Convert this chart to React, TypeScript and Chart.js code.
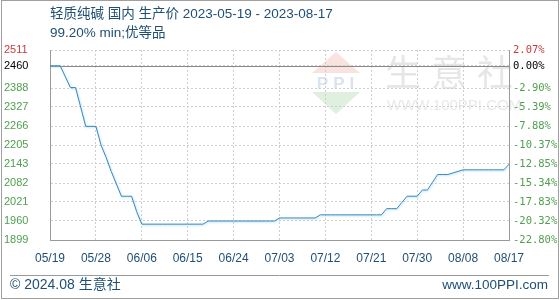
import React, { useEffect, useRef } from 'react';
import { Chart, registerables } from 'chart.js';

Chart.register(...registerables);

// ---- data ----
const startDate = [2023, 5, 19];
const dayCount = 91;
const dates: string[] = [];
for (let i = 0; i < dayCount; i++) {
  const d = new Date(Date.UTC(startDate[0], startDate[1] - 1, startDate[2] + i));
  const mm = String(d.getUTCMonth() + 1).padStart(2, '0');
  const dd = String(d.getUTCDate()).padStart(2, '0');
  dates.push(mm + '/' + dd);
}

const prices: number[] = [
  2460, 2460, 2460, 2425, 2390, 2390, 2328, 2265, 2265, 2265,
  2205, 2165, 2120, 2080, 2040, 2040, 2040, 1990, 1950, 1950,
  1950, 1950, 1950, 1950, 1950, 1950, 1950, 1950, 1950, 1950,
  1950, 1960, 1960, 1960, 1960, 1960, 1960, 1960, 1960, 1960,
  1960, 1960, 1960, 1960, 1960, 1970, 1970, 1970, 1970, 1970,
  1970, 1970, 1970, 1980, 1980, 1980, 1980, 1980, 1980, 1980,
  1980, 1980, 1980, 1980, 1980, 1980, 2000, 2000, 2000, 2020,
  2040, 2040, 2040, 2060, 2060, 2085, 2110, 2110, 2110, 2115,
  2120, 2125, 2125, 2125, 2125, 2125, 2125, 2125, 2125, 2125,
  2143,
];

const baseValue = 2460;
const yMin = 1899;
const yMax = 2511;
const yTickValues = [1899, 1960.2, 2021.4, 2082.6, 2143.8, 2205, 2266.2, 2327.4, 2388.6, 2460, 2511];
const yTickLabels = ['1899', '1960', '2021', '2082', '2143', '2205', '2266', '2327', '2388', '2460', '2511'];
const pctTickLabels = ['-22.80%', '-20.32%', '-17.83%', '-15.34%', '-12.85%', '-10.37%', '-7.88%', '-5.39%', '-2.90%', '0.00%', '2.07%'];
const xLabelEvery = 9;

const titleLine1 = '轻质纯碱 国内 生产价 2023-05-19 - 2023-08-17';
const titleLine2 = '99.20% min;优等品';
const footerLeft = '© 2024.08 生意社';
const footerRight = 'www.100PPI.com';
const wmText = '生意社';
const wmUrl = 'WWW.100PPI.COM';
const wmLogo = 'PPI';

const TEXT_BLUE = '#1f4f74';
const GREEN = '#4f9f4f';
const RED = '#c83c3c';
const FONT = '"Liberation Sans", "Noto Sans CJK SC", sans-serif';

const tickColor = (ctx: any) => {
  const v = ctx.tick ? ctx.tick.value : null;
  if (v === yMax) return RED;
  if (v === baseValue) return '#000000';
  return GREEN;
};

const decorPlugin = {
  id: 'decor',
  beforeDraw(chart: any) {
    const ctx = chart.ctx as CanvasRenderingContext2D;
    const W = chart.width;
    const H = chart.height;
    ctx.save();
    ctx.fillStyle = '#ffffff';
    ctx.fillRect(0, 0, W, H);

    // watermark logo
    ctx.fillStyle = 'rgba(236,150,140,0.28)';
    ctx.beginPath();
    ctx.moveTo(336, 52);
    ctx.lineTo(360, 73);
    ctx.lineTo(312, 73);
    ctx.closePath();
    ctx.fill();
    ctx.fillStyle = 'rgba(140,200,140,0.28)';
    ctx.beginPath();
    ctx.moveTo(312, 92);
    ctx.lineTo(360, 92);
    ctx.lineTo(336, 114);
    ctx.closePath();
    ctx.fill();
    ctx.fillStyle = 'rgba(130,165,210,0.3)';
    ctx.font = 'bold 17px "Liberation Sans", sans-serif';
    ctx.textAlign = 'center';
    ctx.textBaseline = 'middle';
    (ctx as any).letterSpacing = '5px';
    ctx.fillText(wmLogo, 338, 84);
    (ctx as any).letterSpacing = '0px';
    // watermark text
    ctx.fillStyle = 'rgba(200,200,200,0.45)';
    ctx.font = '36px "Noto Sans CJK SC", sans-serif';
    ctx.textAlign = 'left';
    (ctx as any).letterSpacing = '10px';
    ctx.fillText(wmText, 385, 72);
    (ctx as any).letterSpacing = '0px';
    ctx.font = '15px "Liberation Sans", sans-serif';
    ctx.fillStyle = 'rgba(205,205,205,0.45)';
    ctx.fillText(wmUrl, 387, 106);

    // title
    ctx.fillStyle = TEXT_BLUE;
    ctx.font = '13.5px ' + FONT;
    ctx.textAlign = 'left';
    ctx.textBaseline = 'middle';
    ctx.fillText(titleLine1, 50, 14);
    ctx.fillText(titleLine2, 50, 33);

    // footer
    ctx.strokeStyle = '#9a9a9a';
    ctx.lineWidth = 1;
    ctx.beginPath();
    ctx.moveTo(10, 275.5);
    ctx.lineTo(549, 275.5);
    ctx.stroke();
    ctx.font = '14px ' + FONT;
    ctx.fillStyle = TEXT_BLUE;
    ctx.fillText(footerLeft, 10, 285);
    ctx.textAlign = 'right';
    ctx.font = '13.5px ' + FONT;
    ctx.fillText(footerRight, 548, 285);

    // outer border
    ctx.strokeStyle = '#a0a0a0';
    ctx.strokeRect(1.5, 0.5, 557, 298);
    ctx.restore();
  },
  beforeDatasetsDraw(chart: any) {
    const ctx = chart.ctx as CanvasRenderingContext2D;
    const y = chart.scales.y;
    const area = chart.chartArea;
    const py = Math.round(y.getPixelForValue(baseValue)) + 0.5;
    ctx.save();
    ctx.strokeStyle = '#8a8a8a';
    ctx.lineWidth = 1;
    ctx.beginPath();
    ctx.moveTo(area.left, py);
    ctx.lineTo(area.right, py);
    ctx.stroke();
    ctx.restore();
  },
  beforeDatasetDraw(chart: any) {
    const ctx = chart.ctx as CanvasRenderingContext2D;
    ctx.save();
    ctx.shadowColor = 'rgba(140,210,245,0.7)';
    ctx.shadowBlur = 2;
    ctx.shadowOffsetX = 1;
    ctx.shadowOffsetY = 1;
  },
  afterDatasetDraw(chart: any) {
    chart.ctx.restore();
  },
};

export default function App() {
  const ref = useRef<HTMLCanvasElement>(null);
  useEffect(() => {
    const canvas = ref.current;
    if (!canvas) return;
    const chart = new Chart(canvas, {
      type: 'line',
      data: {
        labels: dates,
        datasets: [
          {
            data: prices,
            borderColor: '#3a86b8',
            borderWidth: 1,
            pointRadius: 0,
            tension: 0,
            fill: false,
          },
        ],
      },
      options: {
        responsive: false,
        animation: false,
        devicePixelRatio: 1,
        layout: { padding: { left: 4, top: 50, right: 0, bottom: 0 } },
        plugins: {
          legend: { display: false },
          title: { display: false },
          tooltip: { enabled: false },
        },
        scales: {
          x: {
            type: 'category',
            offset: false,
            afterBuildTicks: (axis: any) => {
              axis.ticks = axis.ticks.filter((t: any) => t.value % xLabelEvery === 0);
            },
            afterFit: (scale: any) => {
              scale.height = 60;
            },
            grid: { color: '#cfcfcf', drawTicks: false, borderDash: [2, 2] } as any,
            border: { display: true, color: '#9a9a9a', dash: [2, 2] } as any,
            ticks: {
              autoSkip: false,
              maxRotation: 0,
              padding: 11,
              color: TEXT_BLUE,
              font: { family: FONT, size: 12 },
            },
          },
          y: {
            type: 'linear',
            position: 'left',
            min: yMin,
            max: yMax,
            afterBuildTicks: (axis: any) => {
              axis.ticks = yTickValues.map((v) => ({ value: v }));
            },
            afterFit: (scale: any) => {
              scale.width = 46;
            },
            grid: { color: '#cfcfcf', drawTicks: false, borderDash: [2, 2] } as any,
            border: { display: true, color: '#9a9a9a', dash: [2, 2] } as any,
            ticks: {
              crossAlign: 'far',
              callback: (_v: any, i: number) => yTickLabels[i],
              color: tickColor,
              font: { family: FONT, size: 11 },
            },
          },
          y1: {
            type: 'linear',
            position: 'right',
            min: yMin,
            max: yMax,
            afterBuildTicks: (axis: any) => {
              axis.ticks = yTickValues.map((v) => ({ value: v }));
            },
            afterFit: (scale: any) => {
              scale.width = 51;
            },
            grid: { display: false, drawTicks: false },
            border: { display: true, color: '#9a9a9a' },
            ticks: {
              padding: 4,
              callback: (_v: any, i: number) => pctTickLabels[i],
              color: tickColor,
              font: { family: '"DejaVu Sans Mono", monospace', size: 10.5 },
            },
          },
        },
      } as any,
      plugins: [decorPlugin],
    });
    return () => chart.destroy();
  }, []);

  return (
    <div style={{ position: 'absolute', left: 0, top: 0, width: 560, height: 300 }}>
      <canvas ref={ref} width={560} height={300} style={{ display: 'block', width: 560, height: 300 }} />
    </div>
  );
}
